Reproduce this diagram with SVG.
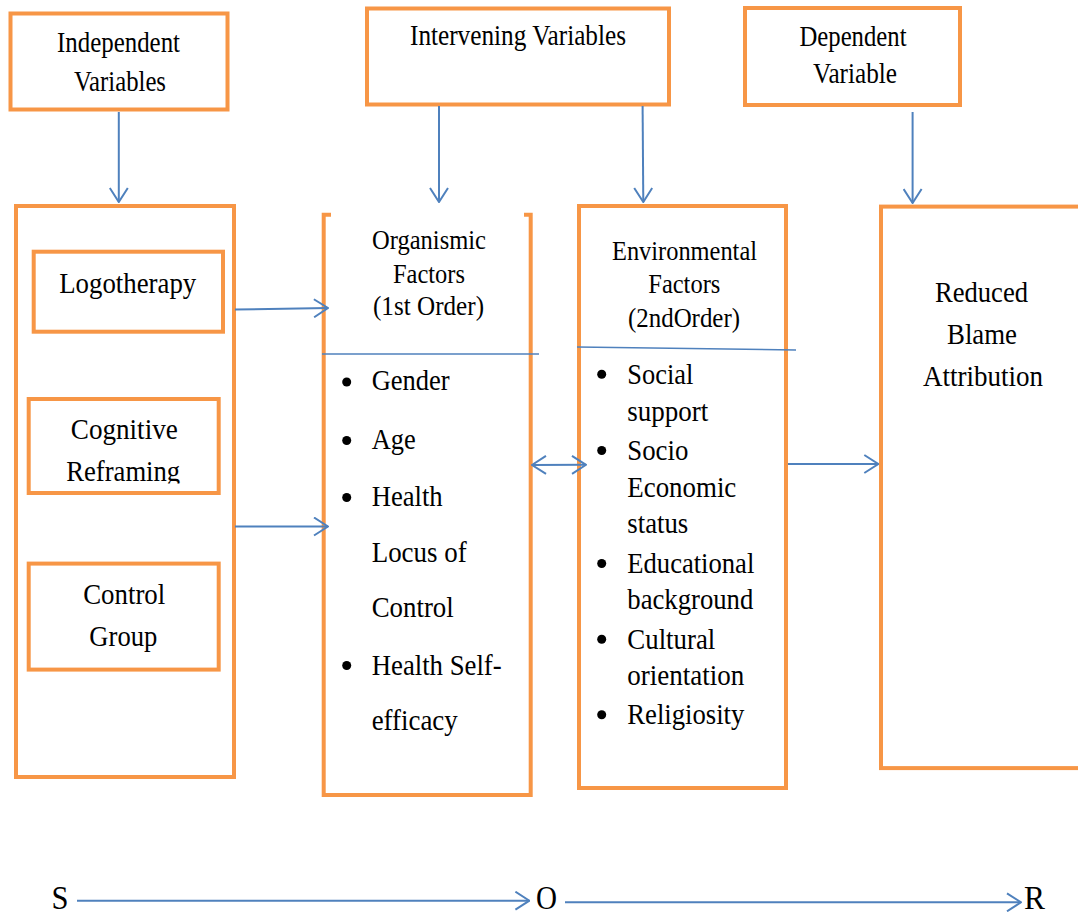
<svg xmlns="http://www.w3.org/2000/svg" width="1078" height="917" viewBox="0 0 1078 917">
<style>
.box{fill:none;stroke:#F79646;stroke-width:4}
.t{font-family:"Liberation Serif","Times New Roman",serif;fill:#000;font-size:30px}
.h{font-size:26.5px}
.m{text-anchor:middle}
.s{font-size:33px}
.c{stroke:#4F81BD;stroke-width:2;fill:none}
.d{stroke:#4F81BD;stroke-width:1.5;fill:none}
.b{fill:#000}
</style>
<defs>
<marker id="ah" viewBox="0 0 16 20" refX="15" refY="10" markerWidth="16" markerHeight="20" markerUnits="userSpaceOnUse" orient="auto-start-reverse">
<path d="M1,1 L15,10 L1,19" fill="none" stroke="#4F81BD" stroke-width="2"/>
</marker>
<clipPath id="cogclip"><rect x="0" y="380" width="300" height="103.5"/></clipPath>
</defs>
<rect width="1078" height="917" fill="#fff"/>

<g id="independent">
<rect class="box" x="10.5" y="13.5" width="217" height="96"/>
<text class="t m" x="118.5" y="52" textLength="123" lengthAdjust="spacingAndGlyphs">Independent</text>
<text class="t m" x="120" y="90.5" textLength="92" lengthAdjust="spacingAndGlyphs">Variables</text>
</g>

<g id="intervening">
<rect class="box" x="367" y="8.5" width="302" height="96"/>
<text class="t m" x="518" y="45" textLength="216" lengthAdjust="spacingAndGlyphs">Intervening Variables</text>
</g>

<g id="dependent">
<rect class="box" x="745" y="8" width="215" height="97"/>
<text class="t m" x="853" y="46" textLength="107" lengthAdjust="spacingAndGlyphs">Dependent</text>
<text class="t m" x="855" y="83" textLength="84" lengthAdjust="spacingAndGlyphs">Variable</text>
</g>

<g id="stimulus">
<rect class="box" x="16" y="206" width="218" height="571"/>
</g>

<g id="logotherapy">
<rect class="box" x="33.7" y="251.7" width="189.3" height="80"/>
<text class="t m" x="127.7" y="293" textLength="137" lengthAdjust="spacingAndGlyphs">Logotherapy</text>
</g>

<g id="cognitive">
<rect class="box" x="28.7" y="399" width="190" height="94"/>
<g clip-path="url(#cogclip)">
<text class="t m" x="124.3" y="439" textLength="107" lengthAdjust="spacingAndGlyphs">Cognitive</text>
<text class="t m" x="123.2" y="481" textLength="114" lengthAdjust="spacingAndGlyphs">Reframing</text>
</g>
</g>

<g id="control">
<rect class="box" x="28.7" y="563.6" width="190" height="106"/>
<text class="t m" x="124.2" y="604" textLength="82" lengthAdjust="spacingAndGlyphs">Control</text>
<text class="t m" x="123.3" y="646" textLength="68" lengthAdjust="spacingAndGlyphs">Group</text>
</g>

<g id="organismic">
<path class="box" d="M331,214.7 H323.7 V795 H530.7 V214.7 H524"/>
<line class="d" x1="322" y1="354" x2="539" y2="354"/>
<text class="t h m" x="429" y="249" textLength="114" lengthAdjust="spacingAndGlyphs">Organismic</text>
<text class="t h m" x="429" y="283" textLength="72" lengthAdjust="spacingAndGlyphs">Factors</text>
<text class="t h m" x="428.5" y="315" textLength="111" lengthAdjust="spacingAndGlyphs">(1st Order)</text>
<circle class="b" cx="346.7" cy="382" r="4.5"/>
<circle class="b" cx="346.7" cy="440.5" r="4.5"/>
<circle class="b" cx="346.7" cy="497.5" r="4.5"/>
<circle class="b" cx="346.7" cy="665.5" r="4.5"/>
<text class="t" x="371.7" y="390" textLength="78" lengthAdjust="spacingAndGlyphs">Gender</text>
<text class="t" x="371.7" y="449" textLength="44" lengthAdjust="spacingAndGlyphs">Age</text>
<text class="t" x="371.7" y="506" textLength="71" lengthAdjust="spacingAndGlyphs">Health</text>
<text class="t" x="371.7" y="562" textLength="95" lengthAdjust="spacingAndGlyphs">Locus of</text>
<text class="t" x="371.7" y="617" textLength="82" lengthAdjust="spacingAndGlyphs">Control</text>
<text class="t" x="371.7" y="674.5" textLength="130" lengthAdjust="spacingAndGlyphs">Health Self-</text>
<text class="t" x="371.7" y="730" textLength="86" lengthAdjust="spacingAndGlyphs">efficacy</text>
</g>

<g id="environmental">
<rect class="box" x="579" y="206" width="207" height="582"/>
<line class="d" x1="577" y1="347" x2="796" y2="350"/>
<text class="t h m" x="684.5" y="260" textLength="145" lengthAdjust="spacingAndGlyphs">Environmental</text>
<text class="t h m" x="684.3" y="293" textLength="72" lengthAdjust="spacingAndGlyphs">Factors</text>
<text class="t h m" x="684" y="327" textLength="112" lengthAdjust="spacingAndGlyphs">(2ndOrder)</text>
<circle class="b" cx="601.7" cy="374.2" r="4.5"/>
<circle class="b" cx="601.7" cy="450.5" r="4.5"/>
<circle class="b" cx="601.7" cy="563.5" r="4.5"/>
<circle class="b" cx="601.7" cy="639.3" r="4.5"/>
<circle class="b" cx="601.7" cy="714.7" r="4.5"/>
<text class="t" x="627.3" y="384" textLength="66" lengthAdjust="spacingAndGlyphs">Social</text>
<text class="t" x="627.3" y="420.5" textLength="81" lengthAdjust="spacingAndGlyphs">support</text>
<text class="t" x="627.3" y="459.5" textLength="61" lengthAdjust="spacingAndGlyphs">Socio</text>
<text class="t" x="627.3" y="496.5" textLength="109" lengthAdjust="spacingAndGlyphs">Economic</text>
<text class="t" x="627.3" y="533" textLength="61" lengthAdjust="spacingAndGlyphs">status</text>
<text class="t" x="627.3" y="573" textLength="127" lengthAdjust="spacingAndGlyphs">Educational</text>
<text class="t" x="627.3" y="608.7" textLength="126" lengthAdjust="spacingAndGlyphs">background</text>
<text class="t" x="627.3" y="648.5" textLength="88" lengthAdjust="spacingAndGlyphs">Cultural</text>
<text class="t" x="627.3" y="685" textLength="117" lengthAdjust="spacingAndGlyphs">orientation</text>
<text class="t" x="627.3" y="724.3" textLength="117" lengthAdjust="spacingAndGlyphs">Religiosity</text>
</g>

<g id="reduced">
<rect class="box" x="881" y="206.6" width="300" height="561.5"/>
<text class="t m" x="981.5" y="301.5" textLength="93" lengthAdjust="spacingAndGlyphs">Reduced</text>
<text class="t m" x="982" y="343.5" textLength="70" lengthAdjust="spacingAndGlyphs">Blame</text>
<text class="t m" x="983" y="386.4" textLength="120" lengthAdjust="spacingAndGlyphs">Attribution</text>
</g>

<g id="sor">
<text class="t s" x="51.6" y="909" textLength="17" lengthAdjust="spacingAndGlyphs">S</text>
<text class="t s" x="536" y="909" textLength="21" lengthAdjust="spacingAndGlyphs">O</text>
<text class="t s" x="1024" y="909" textLength="21" lengthAdjust="spacingAndGlyphs">R</text>
</g>

<g id="connectors">
<line class="c" x1="118.8" y1="112" x2="118.8" y2="202" marker-end="url(#ah)"/>
<line class="c" x1="439" y1="106" x2="439" y2="202" marker-end="url(#ah)"/>
<line class="c" x1="642.6" y1="106" x2="643.3" y2="202" marker-end="url(#ah)"/>
<line class="c" x1="912.6" y1="112" x2="912.6" y2="203" marker-end="url(#ah)"/>
<line class="c" x1="235" y1="309.5" x2="328" y2="308" marker-end="url(#ah)"/>
<line class="c" x1="235" y1="526.5" x2="328" y2="526.5" marker-end="url(#ah)"/>
<line class="c" x1="532" y1="465" x2="586" y2="464.8" marker-start="url(#ah)" marker-end="url(#ah)"/>
<line class="c" x1="788" y1="464" x2="878.3" y2="464" marker-end="url(#ah)"/>
<line class="c" x1="77" y1="900.7" x2="529.4" y2="900.7" marker-end="url(#ah)"/>
<line class="c" x1="565" y1="902.3" x2="1021" y2="902.3" marker-end="url(#ah)"/>
</g>
</svg>
